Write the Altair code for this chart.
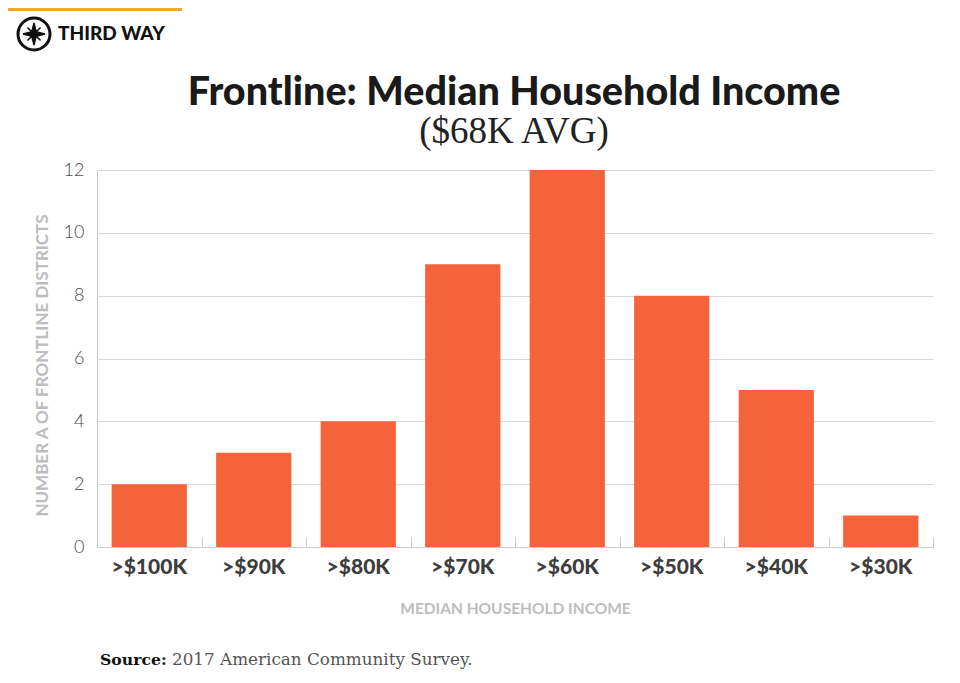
import altair as alt
import pandas as pd

categories = [">$100K", ">$90K", ">$80K", ">$70K", ">$60K", ">$50K", ">$40K", ">$30K"]
districts = [2, 3, 4, 9, 12, 8, 5, 1]
y_ticks = [0, 2, 4, 6, 8, 10, 12]
boundary_ticks = [0, 1, 2, 3, 4, 5, 6, 7, 8]

title_text = "Frontline: Median Household Income"
subtitle_text = "($68K AVG)"
x_title = "MEDIAN HOUSEHOLD INCOME"
y_title = "NUMBER A OF FRONTLINE DISTRICTS"
brand = "THIRD WAY"
source_label = "Source:"
source_text = "2017 American Community Survey."

df = pd.DataFrame({"cat": categories, "count": districts, "pos": list(range(len(categories)))})

W, H = 836, 377
BAR = "#F5633B"

x_enc = alt.X("cat:N", sort=categories,
              scale=alt.Scale(paddingInner=0.28, paddingOuter=0.14),
              axis=alt.Axis(title=x_title, labelFont="Lato", labelFontSize=21, labelFontWeight=900,
                            labelColor="#3d3d3d", labelPadding=9, ticks=False,
                            domainColor="#cccccc", labelAngle=0,
                            titleFont="Lato", titleFontSize=15.5, titleFontWeight="bold",
                            titleColor="#bdbdbd", titleY=61, titleBaseline="middle"))
y_enc = alt.Y("count:Q", scale=alt.Scale(domain=[0, 12], nice=False),
              axis=alt.Axis(title=y_title, values=y_ticks, ticks=False, labelPadding=13,
                            labelFont="Lato", labelFontSize=18, labelFontWeight=300,
                            labelColor="#4a4a4a", gridColor="#dadada", domainColor="#cccccc",
                            titleFont="Lato", titleFontSize=17, titleFontWeight="bold",
                            titleColor="#bdbdbd", titleX=-55, titleY=195,
                            titleBaseline="middle", titleAlign="center"))

bars = alt.Chart(df).mark_bar(color=BAR).encode(x=x_enc, y=y_enc)

ticks_layer = alt.Chart(df).mark_point(opacity=0).encode(
    x=alt.X("pos:Q", scale=alt.Scale(domain=[0, 8], nice=False),
            axis=alt.Axis(orient="bottom", values=boundary_ticks, labels=False, ticks=True,
                          tickSize=10, tickColor="#cccccc", offset=-10, domain=False,
                          grid=False, title=None)),
    y=alt.Y("count:Q"),
)

one = pd.DataFrame({"a": [0]})
base = alt.Chart(one)

title = base.mark_text(text=title_text, font="Lato", fontSize=39.5, fontWeight=900,
                       color="#1a1a1a", align="center", baseline="alphabetic").encode(
    x=alt.value(417), y=alt.value(-65))
subtitle = base.mark_text(text=subtitle_text, font="Liberation Serif", fontSize=37,
                          color="#222222", align="center", baseline="alphabetic").encode(
    x=alt.value(417), y=alt.value(-27))
src1 = base.mark_text(text=source_label, font="DejaVu Serif", fontSize=15.7, fontWeight="bold",
                      color="#111111", align="left", baseline="alphabetic").encode(
    x=alt.value(3), y=alt.value(495))
src2 = base.mark_text(text=source_text, font="DejaVu Serif", fontSize=16.8,
                      color="#555555", align="left", baseline="alphabetic").encode(
    x=alt.value(75), y=alt.value(495))
topbar = base.mark_rect(color="#F7A531").encode(
    x=alt.value(-89), x2=alt.value(85), y=alt.value(-162), y2=alt.value(-159))
circle = base.mark_point(shape="circle", filled=False, color="#111111", strokeWidth=3,
                         opacity=1, size=1024).encode(x=alt.value(-63), y=alt.value(-136))
star_path = ("M0,-1L0.2,-0.2L0.6,-0.6L0.2,-0.2L1,0L0.2,0.2L0.6,0.6L0.2,0.2"
             "L0,1L-0.2,0.2L-0.6,0.6L-0.2,0.2L-1,0L-0.2,-0.2L-0.6,-0.6L-0.2,-0.2Z")
star = base.mark_point(shape=star_path, filled=True, color="#111111", opacity=1, size=480,
                       strokeWidth=1.5, stroke="#111111").encode(x=alt.value(-63), y=alt.value(-136))
brand_text = base.mark_text(text=brand, font="Lato", fontSize=19, fontWeight=900,
                            color="#111111", align="left", baseline="middle").encode(
    x=alt.value(-39), y=alt.value(-136))

chart = alt.layer(bars, ticks_layer, title, subtitle, src1, src2, topbar, circle, star,
                  brand_text).resolve_scale(x="independent").resolve_axis(x="independent").properties(
    width=W, height=H,
    autosize=alt.AutoSizeParams(type="none"),
    padding={"left": 89, "top": 162, "right": 19, "bottom": 128},
    background="white",
).configure_view(stroke=None)

chart.save("out.html", embed_options={"renderer": "svg", "actions": False})
